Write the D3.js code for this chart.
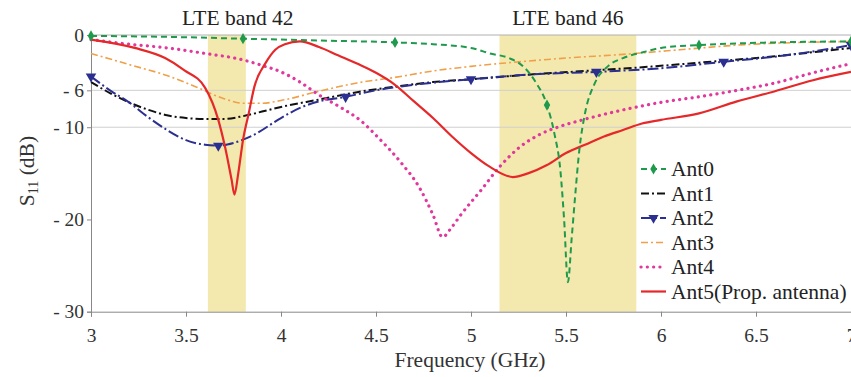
<!DOCTYPE html>
<html><head><meta charset="utf-8">
<script src="https://cdn.jsdelivr.net/npm/d3@7"></script>
<style>body{margin:0;background:#fff;} svg{display:block;}</style>
</head><body>
<svg id="chart" width="851" height="377"></svg>
<script>
const seriesNames = ["Ant0","Ant1","Ant2","Ant3","Ant4","Ant5(Prop. antenna)"];
const ant0F = [3.0,3.4,3.8,4.2,4.6,4.8,5.0,5.1,5.2,5.28,5.34,5.4,5.44,5.47,5.49,5.51,5.53,5.55,5.57,5.6,5.65,5.72,5.8,5.9,6.0,6.2,6.6,7.0];
const ant0S = [-0.1,-0.2,-0.4,-0.6,-0.8,-1.0,-1.4,-2.0,-2.5,-3.5,-5.1,-7.6,-10.8,-14.6,-20,-26.8,-22,-17,-12.5,-8.5,-5.3,-3.4,-2.5,-1.9,-1.4,-1.1,-0.8,-0.7];
const ant0Markers = [3.0,3.8,4.6,5.4,6.2,7.0];
const ant1F = [3.0,3.1,3.2,3.3,3.4,3.5,3.6,3.7,3.8,3.9,4.0,4.2,4.4,4.6,4.8,5.0,5.3,5.6,5.9,6.2,6.6,7.0];
const ant1S = [-5.1,-6.3,-7.3,-8.1,-8.7,-9.0,-9.1,-9.1,-8.8,-8.3,-7.8,-7.0,-6.2,-5.6,-5.1,-4.8,-4.3,-3.9,-3.5,-3.0,-2.3,-1.4];
const ant2F = [3.0,3.1,3.2,3.3,3.4,3.5,3.6,3.67,3.75,3.85,4.0,4.1,4.2,4.34,4.5,4.7,5.0,5.3,5.66,6.0,6.33,6.66,7.0];
const ant2S = [-4.5,-6.0,-7.3,-8.9,-10.3,-11.4,-11.9,-12.0,-11.7,-10.9,-9.0,-7.9,-7.2,-6.7,-6.0,-5.4,-4.8,-4.3,-4.0,-3.6,-2.9,-2.2,-1.1];
const ant2Markers = [3.0,3.67,4.34,5.0,5.66,6.33,7.0];
const ant3F = [3.0,3.2,3.4,3.55,3.7,3.8,3.9,4.0,4.2,4.4,4.6,4.8,5.0,5.2,5.5,5.8,6.1,6.4,7.0];
const ant3S = [-2.0,-3.2,-4.4,-5.6,-6.9,-7.4,-7.4,-7.1,-6.1,-5.2,-4.6,-3.9,-3.4,-3.0,-2.5,-2.1,-1.6,-1.1,-0.7];
const ant4F = [3.0,3.2,3.4,3.6,3.8,3.9,4.0,4.1,4.2,4.31,4.42,4.52,4.63,4.73,4.8,4.85,4.9,4.95,5.05,5.15,5.26,5.36,5.47,5.57,5.7,5.85,6.0,6.2,6.4,6.6,6.8,7.0];
const ant4S = [-0.5,-1.0,-1.4,-2.0,-2.7,-3.3,-4.0,-5.1,-6.5,-7.8,-9.3,-11.3,-13.8,-16.6,-19.5,-21.9,-20.8,-19.4,-16.9,-14.3,-12.1,-10.8,-9.9,-9.3,-8.6,-7.9,-7.3,-6.7,-6.0,-5.2,-4.1,-3.1];
const ant5F = [3.0,3.23,3.39,3.49,3.6,3.67,3.705,3.74,3.755,3.775,3.8,3.83,3.86,3.92,3.97,4.02,4.1,4.2,4.3,4.4,4.5,4.6,4.7,4.8,4.9,5.0,5.1,5.22,5.3,5.4,5.5,5.6,5.7,5.8,5.9,6.0,6.2,6.4,6.6,6.8,7.0];
const ant5S = [-0.5,-1.4,-2.5,-3.8,-5.7,-9.2,-12.1,-15.7,-17.3,-15.0,-11.4,-8.5,-5.6,-3.0,-1.6,-1.0,-0.7,-1.3,-2.2,-3.1,-4.1,-5.4,-7.2,-9.0,-11.0,-12.8,-14.3,-15.4,-15.0,-14.1,-12.8,-11.9,-11.0,-10.3,-9.6,-9.2,-8.5,-7.2,-6.1,-4.9,-4.0];
const xTicks = [3,3.5,4,4.5,5,5.5,6,6.5,7];
const yTicks = [0,-6,-10,-20,-30];
const yGrid = [-6,-10];
const bands = [{name:"LTE band 42", from:3.615, to:3.815},{name:"LTE band 46", from:5.15, to:5.87}];

const font = '"Liberation Serif","Times New Roman",serif';
const svg = d3.select("#chart");
const x = d3.scaleLinear().domain([3,7]).range([91,851]);
const y = d3.scaleLinear().domain([-30,0]).range([311.7,35]);

svg.selectAll("rect.band").data(bands).join("rect")
  .attr("x", d=>x(d.from)).attr("width", d=>x(d.to)-x(d.from))
  .attr("y", y(0)).attr("height", y(-30)-y(0)).attr("fill","#f3e9ae");
svg.selectAll("text.band").data(bands).join("text")
  .attr("x", d=>(x(d.from)+x(d.to))/2 + (d.to-d.from<0.3?11:0)).attr("y", 25)
  .attr("text-anchor","middle").attr("font-size",21.5).attr("fill","#222")
  .text(d=>d.name);

svg.selectAll("line.grid").data(yGrid).join("line")
  .attr("x1",x(3)).attr("x2",851).attr("y1",d=>y(d)).attr("y2",d=>y(d))
  .attr("stroke","#cfcfcf").attr("stroke-width",1);
svg.append("line").attr("x1",x(3)).attr("x2",851).attr("y1",y(0)).attr("y2",y(0)).attr("stroke","#b0b0b0");

const xAxis = svg.append("g").attr("transform",`translate(0,${y(-30)})`)
  .call(d3.axisBottom(x).tickValues(xTicks).tickSize(5).tickFormat(d3.format("")));
const yAxis = svg.append("g").attr("transform",`translate(${x(3)},0)`)
  .call(d3.axisLeft(y).tickValues(yTicks).tickSize(4).tickFormat(d=> d===0?"0":"- "+Math.abs(d)));
[xAxis,yAxis].forEach(a=>{
  a.attr("font-family",null).attr("font-size",null);
  a.selectAll("path,line").attr("stroke","#888");
  a.selectAll("text").attr("font-size",19.5).attr("fill","#333");
});
xAxis.selectAll("text").attr("y",30).attr("dy",0);

svg.append("text").attr("x",470).attr("y",367).attr("text-anchor","middle")
  .attr("font-size",21.5).attr("fill","#333").text("Frequency (GHz)");
const yl = svg.append("text").attr("transform","translate(34,171) rotate(-90)").attr("text-anchor","middle")
  .attr("font-size",21.5).attr("fill","#333");
yl.append("tspan").text("S");
yl.append("tspan").attr("font-size",14).attr("dy",4).text("11");
yl.append("tspan").attr("dy",-4).text(" (dB)");

const styles = [
  {F:ant0F,S:ant0S,color:"#1e9a4c",dash:"6,4",w:2,marker:"diamond",mk:ant0Markers},
  {F:ant1F,S:ant1S,color:"#111111",dash:"8,3,2,3",w:2},
  {F:ant2F,S:ant2S,color:"#2b2f90",dash:"11,3,2,3",w:2,marker:"tri",mk:ant2Markers},
  {F:ant3F,S:ant3S,color:"#f0a04a",dash:"7,3,2,3",w:1.6},
  {F:ant4F,S:ant4S,color:"#e0389c",dash:"0.1,6.2",w:3.2,cap:"round"},
  {F:ant5F,S:ant5S,color:"#e5282a",dash:null,w:2.2}
];
const line = d3.line().x(d=>x(d[0])).y(d=>y(d[1])).curve(d3.curveMonotoneX);
const plot = svg.append("g");
const drawOrder = [3,1,2,4,5,0];
drawOrder.forEach(i=>{
  const s = styles[i];
  const pts = s.F.map((f,k)=>[f,s.S[k]]);
  plot.append("path").datum(pts).attr("d",line).attr("fill","none")
    .attr("stroke",s.color).attr("stroke-width",s.w)
    .attr("stroke-dasharray",s.dash).attr("stroke-linecap",s.cap||"butt");
  if(s.marker){
    const mp = pts.filter(p=>s.mk.includes(p[0]));
    const sym = s.marker==="diamond" ? d3.symbol(d3.symbolDiamond,36) : d3.symbol(d3.symbolTriangle,48);
    plot.selectAll(null).data(mp).join("path")
      .attr("d",sym).attr("transform",p=>`translate(${x(p[0])},${y(p[1])})${s.marker==="tri"?" rotate(180)":""}`)
      .attr("fill",s.color);
  }
});

const lg = svg.append("g");
styles.forEach((s,i)=>{
  const cy = 169 + i*24.5;
  lg.append("line").attr("x1",641).attr("x2",666).attr("y1",cy).attr("y2",cy)
    .attr("stroke",s.color).attr("stroke-width",s.w).attr("stroke-dasharray",s.dash)
    .attr("stroke-linecap",s.cap||"butt");
  if(s.marker){
    const sym = s.marker==="diamond" ? d3.symbol(d3.symbolDiamond,36) : d3.symbol(d3.symbolTriangle,44);
    lg.append("path").attr("d",sym).attr("transform",`translate(653.5,${cy})${s.marker==="tri"?" rotate(180)":""}`).attr("fill",s.color);
  }
  lg.append("text").attr("x",671).attr("y",cy+7).attr("font-size",21.5)
    .attr("fill","#222").text(seriesNames[i]);
});

svg.selectAll("text").style("font-family", font);
</script>
</body></html>
